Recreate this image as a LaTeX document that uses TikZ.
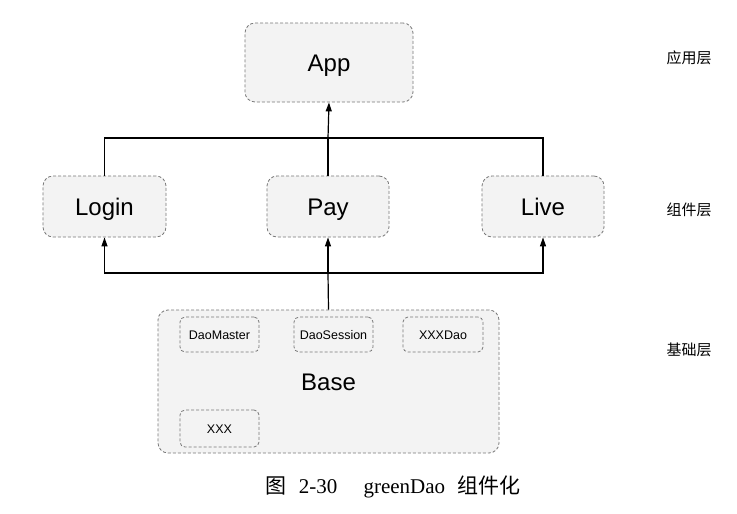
\documentclass[tikz,border=0pt]{standalone}
\usepackage{fontspec}
\setsansfont{Liberation Sans}
\newfontfamily\cjk{Noto Sans CJK SC}
\newfontfamily\capfont{Liberation Serif}
\usepackage{tikz}
\usetikzlibrary{arrows.meta}
\definecolor{boxfill}{RGB}{243, 243, 243}
\definecolor{boxline}{RGB}{120, 120, 120}

\tikzset{
  modbox/.style={draw=boxline, fill=boxfill, densely dashed, line width=0.8pt,
    rounded corners=10pt, inner sep=0pt, text height=17pt, text depth=0pt,
    font=\sffamily\fontsize{24}{28}\selectfont},
  subbox/.style={modbox, rounded corners=5pt, text height=9pt,
    font=\sffamily\fontsize{12.5}{15}\selectfont},
  layer/.style={font=\cjk\fontsize{15}{18}\selectfont},
  link/.style={line width=1.2pt},
  uparrow/.style={link, -{Triangle[length=9pt, width=6pt]}}
}

\begin{document}
\begin{tikzpicture}[x=1pt, y=-1pt]
\useasboundingbox (0,0) rectangle (737,514);

% App layer
\node[modbox, minimum width=168pt, minimum height=79pt] (app) at (329,62.5) {App};

% Component layer
\node[modbox, minimum width=123pt, minimum height=61pt] (login) at (104.5,206.5) {Login};
\node[modbox, minimum width=122pt, minimum height=61pt] (pay) at (328,206.5) {Pay};
\node[modbox, minimum width=122pt, minimum height=61pt] (live) at (543,206.5) {Live};

% Base layer
\node[modbox, minimum width=341pt, minimum height=143pt] (base) at (328.5,381.5) {Base};
\node[subbox, minimum width=79pt, minimum height=35pt] (daomaster) at (219.5,334.5) {DaoMaster};
\node[subbox, minimum width=79pt, minimum height=35pt] (daosession) at (333.5,334.5) {DaoSession};
\node[subbox, minimum width=80pt, minimum height=35pt] (xxxdao) at (443,334.5) {XXXDao};
\node[subbox, minimum width=79pt, minimum height=37pt] (xxx) at (219.5,428.5) {XXX};

% Junctions
\coordinate (upper) at (328,138);
\coordinate (lower) at (328,273);

% Components to App
\draw[link] (login.north) |- (upper) -| (live.north);
\draw[link] (pay.north) -- (upper);
\draw[uparrow] (upper) -- (app.south);

% Base to components
\draw[link] (base.north) -- (lower);
\draw[uparrow] (lower) -| (login.south);
\draw[uparrow] (lower) -| (live.south);
\draw[uparrow] (lower) -- (pay.south);

% Layer labels
\node[layer] (l1) at (689,58) {应用层};
\node[layer] (l2) at (689,210) {组件层};
\node[layer] (l3) at (689,350) {基础层};

% Caption
\node[font=\fontsize{21}{25}\selectfont] (caption) at (393,487)
  {{\cjk 图}\ \ {\capfont 2-30\quad\ greenDao}\ \ {\cjk 组件化}};
\end{tikzpicture}
\end{document}
